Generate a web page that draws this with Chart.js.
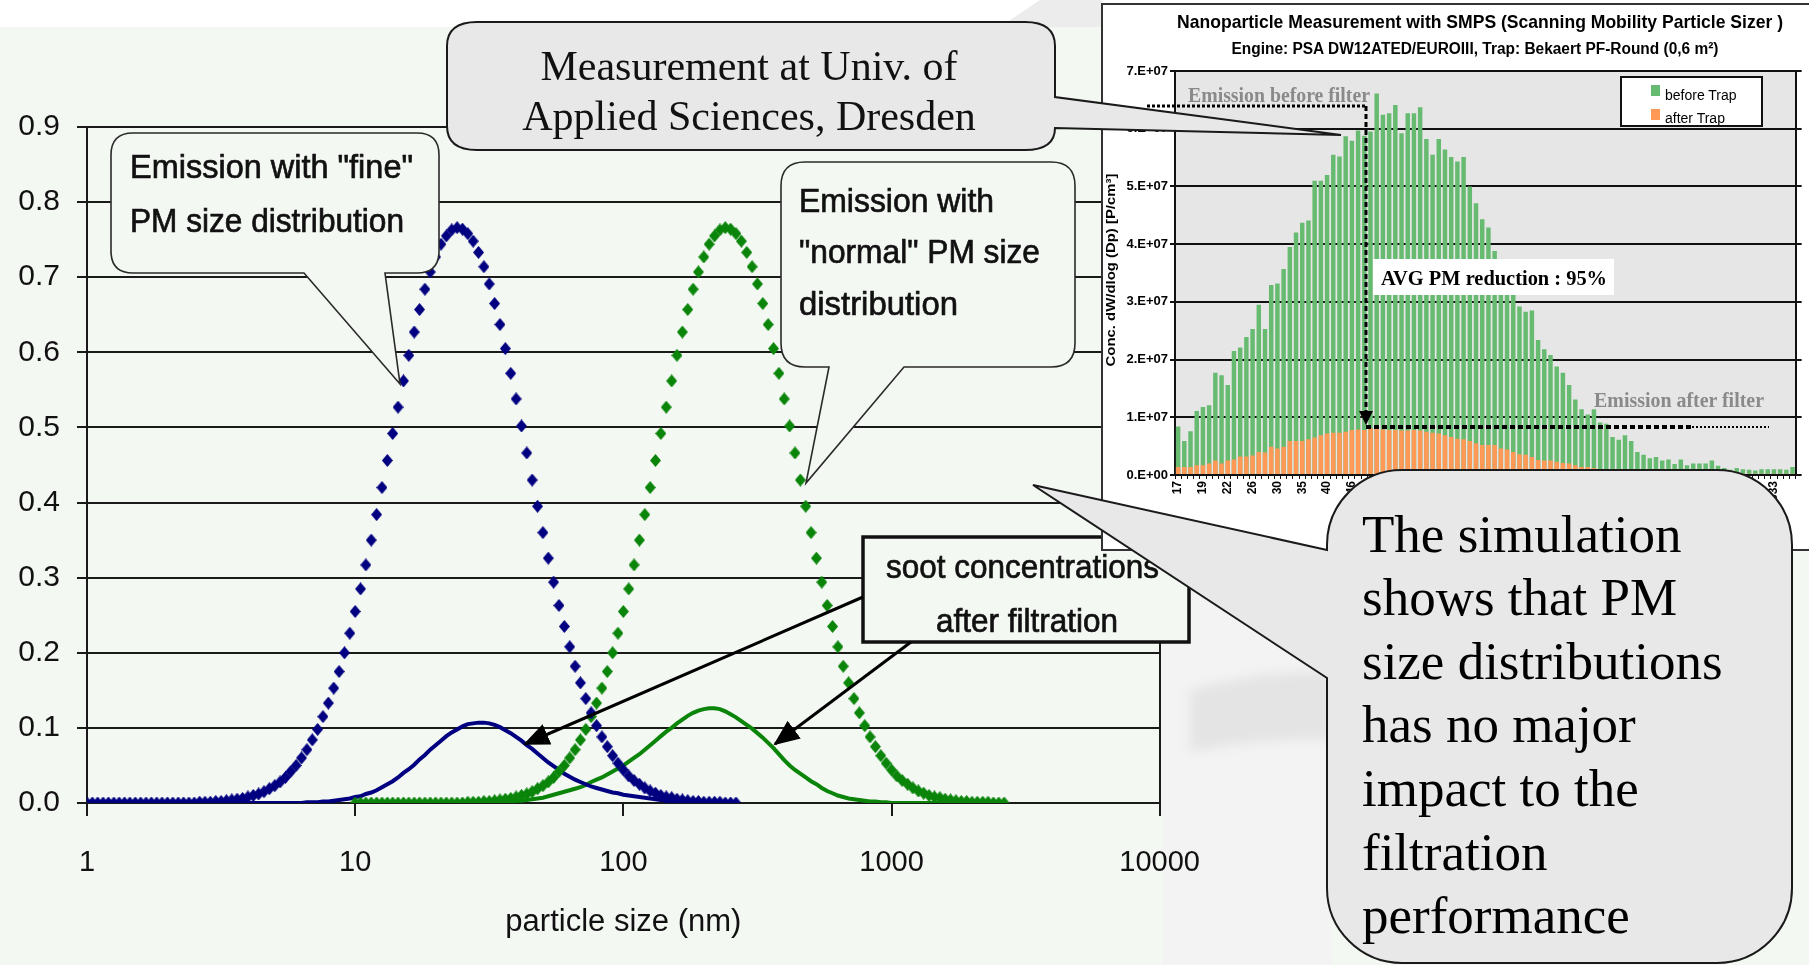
<!DOCTYPE html>
<html>
<head>
<meta charset="utf-8">
<title>PM size distribution</title>
<script src="https://cdn.jsdelivr.net/npm/chart.js@4.4.1/dist/chart.umd.min.js"></script>
<style>
  html, body { margin: 0; padding: 0; }
  body { width: 1809px; height: 965px; overflow: hidden; position: relative; background: #f4f8f3; }
  .layer { position: absolute; left: 0; top: 0; }
  #insetFrame { position: absolute; left: 1101px; top: 3px; width: 720px; height: 548px; background: #fff; border: 2px solid #333; box-sizing: border-box; }
  #insetChart { position: absolute; left: 1102px; top: 4px; }
  .sans { font-family: 'Liberation Sans', Arial, sans-serif; }
  .serif { font-family: 'Liberation Serif', 'Times New Roman', serif; }
  .heavy text { stroke: #111; stroke-width: 0.7; }
</style>
</head>
<body>

<!-- slide background -->
<svg class="layer" width="1809" height="965">
  <defs><filter id="soft"><feGaussianBlur stdDeviation="6"/></filter></defs>
  <rect x="0" y="0" width="1809" height="27" fill="#ffffff"/>
  <polygon points="1000,27 1040,0 1102,0 1102,27" fill="#ececec"/>
  <rect x="1162" y="552" width="170" height="413" fill="#f3f3f3"/>
  <path d="M1190,690 C1240,676 1290,670 1330,672 L1330,740 C1290,738 1240,742 1190,752 Z" fill="#e4e4e4" filter="url(#soft)"/>
</svg>

<canvas id="mainChart" class="layer" width="1230" height="965"></canvas>

<!-- callouts that sit under the inset -->
<svg class="layer sans heavy" width="1809" height="965">
  <defs>
    <marker id="head" markerUnits="userSpaceOnUse" markerWidth="26" markerHeight="22" viewBox="0 0 26 22" refX="24" refY="11" orient="auto">
      <path d="M0,0 L26,11 L0,22 z" fill="#000"/>
    </marker>
  </defs>
  <path d="M133,133 H417 Q439,133 439,155 V251 Q439,273 417,273 H385 L400,384 L304,273 H133 Q111,273 111,251 V155 Q111,133 133,133 Z"
        fill="#f4f8f3" stroke="#2a2a2a" stroke-width="1.6"/>
  <text x="130" y="178" font-size="34" fill="#111" textLength="283" lengthAdjust="spacingAndGlyphs">Emission with "fine"</text>
  <text x="130" y="232" font-size="34" fill="#111" textLength="274" lengthAdjust="spacingAndGlyphs">PM size distribution</text>

  <path d="M805,162 H1051 Q1075,162 1075,186 V343 Q1075,367 1051,367 H904 L806,483 L829,367 H805 Q781,367 781,343 V186 Q781,162 805,162 Z"
        fill="#f4f8f3" stroke="#2a2a2a" stroke-width="1.6"/>
  <text x="799" y="212" font-size="34" fill="#111" textLength="195" lengthAdjust="spacingAndGlyphs">Emission with</text>
  <text x="799" y="263" font-size="34" fill="#111" textLength="241" lengthAdjust="spacingAndGlyphs">"normal" PM size</text>
  <text x="799" y="315" font-size="34" fill="#111" textLength="159" lengthAdjust="spacingAndGlyphs">distribution</text>

  <rect x="863" y="537" width="326" height="105" fill="#f4f8f3" stroke="#111" stroke-width="3.5"/>
  <text x="886" y="578" font-size="34" fill="#111" textLength="273" lengthAdjust="spacingAndGlyphs">soot concentrations</text>
  <text x="936" y="632" font-size="34" fill="#111" textLength="182" lengthAdjust="spacingAndGlyphs">after filtration</text>
  <line x1="863" y1="597" x2="525" y2="744" stroke="#000" stroke-width="3" marker-end="url(#head)"/>
  <line x1="911" y1="642" x2="775" y2="744" stroke="#000" stroke-width="3" marker-end="url(#head)"/>
</svg>

<div id="insetFrame"></div>
<canvas id="insetChart" width="707" height="546"></canvas>

<!-- inset texts and the grey callouts on top -->
<svg class="layer" width="1809" height="965">
  <g class="sans" font-weight="bold" fill="#000">
    <text x="1480" y="28" font-size="19" text-anchor="middle" textLength="606" lengthAdjust="spacingAndGlyphs">Nanoparticle Measurement with SMPS (Scanning Mobility Particle Sizer )</text>
    <text x="1475" y="54" font-size="16" text-anchor="middle" textLength="487" lengthAdjust="spacingAndGlyphs">Engine: PSA DW12ATED/EUROIII, Trap: Bekaert PF-Round (0,6 m²)</text>
    <text x="1111" y="274" font-size="13" text-anchor="middle" transform="rotate(-90 1111 270)" textLength="193" lengthAdjust="spacingAndGlyphs">Conc. dW/dlog (Dp) [P/cm³]</text>
  </g>
  <rect x="1621" y="77" width="141" height="49" fill="#fff" stroke="#111" stroke-width="2"/>
  <rect x="1651" y="85" width="9" height="11" fill="#66bb70"/>
  <rect x="1651" y="109" width="9" height="11" fill="#ff9955"/>
  <text class="sans" x="1665" y="100" font-size="14" fill="#000">before Trap</text>
  <text class="sans" x="1665" y="123" font-size="14" fill="#000">after Trap</text>

  <text class="serif" x="1188" y="102" font-size="20" font-weight="bold" fill="#8a8a8a" textLength="182" lengthAdjust="spacingAndGlyphs">Emission before filter</text>
  <line x1="1147" y1="106" x2="1366" y2="106" stroke="#000" stroke-width="3" stroke-dasharray="3 2"/>
  <line x1="1366" y1="106" x2="1366" y2="414" stroke="#000" stroke-width="3" stroke-dasharray="5 3"/>
  <polygon points="1359,411 1373,411 1366,425" fill="#000"/>
  <line x1="1366" y1="427" x2="1692" y2="427" stroke="#000" stroke-width="4" stroke-dasharray="5 3"/>
  <line x1="1692" y1="427" x2="1769" y2="427" stroke="#000" stroke-width="2" stroke-dasharray="2 2"/>
  <rect x="1373" y="259" width="241" height="36" fill="#fff"/>
  <text class="serif" x="1381" y="285" font-size="22" font-weight="bold" fill="#000" textLength="226" lengthAdjust="spacingAndGlyphs">AVG PM reduction : 95%</text>
  <text class="serif" x="1594" y="407" font-size="20" font-weight="bold" fill="#8a8a8a" textLength="170" lengthAdjust="spacingAndGlyphs">Emission after filter</text>

  <path d="M477,22 H1025 Q1055,22 1055,46 V97 L1341,135 L1055,128 Q1055,150 1025,150 H477 Q447,150 447,126 V46 Q447,22 477,22 Z"
        fill="#e8e8e8" stroke="#1a1a1a" stroke-width="2"/>
  <g class="serif" font-size="42" fill="#111" text-anchor="middle">
    <text x="749" y="80">Measurement at Univ. of</text>
    <text x="749" y="130">Applied Sciences, Dresden</text>
  </g>

  <path d="M1402,470 H1717 A75,75 0 0 1 1792,545 V888 A75,75 0 0 1 1717,963 H1402 A75,75 0 0 1 1327,888 V678 L1033,485 L1327,550 V545 A75,75 0 0 1 1402,470 Z"
        fill="#e8e8e8" stroke="#1a1a1a" stroke-width="2"/>
  <g class="serif" font-size="53" fill="#000">
    <text x="1362" y="552">The simulation</text>
    <text x="1362" y="615">shows that PM</text>
    <text x="1362" y="679">size distributions</text>
    <text x="1362" y="742">has no major</text>
    <text x="1362" y="806">impact to the</text>
    <text x="1362" y="870">filtration</text>
    <text x="1362" y="933">performance</text>
  </g>
</svg>

<script>
// simulated size distributions (particle size in nm)
const fineSize = [
  1, 1.047, 1.096, 1.148, 1.202, 1.259, 1.318, 1.38, 1.445, 1.514, 1.585, 1.66, 1.738, 1.82, 1.905, 1.995, 2.089, 2.188, 2.291, 2.399,
  2.512, 2.63, 2.754, 2.884, 3.02, 3.162, 3.311, 3.467, 3.631, 3.802, 3.981, 4.169, 4.365, 4.571, 4.786, 5.012, 5.248, 5.495, 5.754, 6.026,
  6.31, 6.607, 6.918, 7.244, 7.586, 7.943, 8.318, 8.71, 9.12, 9.55,
  10, 10.47, 10.96, 11.48, 12.02, 12.59, 13.18, 13.8, 14.45, 15.14, 15.85, 16.6, 17.38, 18.2, 19.05, 19.95, 20.89, 21.88, 22.91, 23.99,
  25.12, 26.3, 27.54, 28.84, 30.2, 31.62, 33.11, 34.67, 36.31, 38.02, 39.81, 41.69, 43.65, 45.71, 47.86, 50.12, 52.48, 54.95, 57.54, 60.26,
  63.1, 66.07, 69.18, 72.44, 75.86, 79.43, 83.18, 87.1, 91.2, 95.5,
  100, 104.7, 109.6, 114.8, 120.2, 125.9, 131.8, 138, 144.5, 151.4, 158.5, 166, 173.8, 182, 190.5, 199.5, 208.9, 218.8, 229.1, 239.9,
  251.2, 263
];
const normalSize = [
  10, 10.47, 10.96, 11.48, 12.02, 12.59, 13.18, 13.8, 14.45, 15.14, 15.85, 16.6, 17.38, 18.2, 19.05, 19.95, 20.89, 21.88, 22.91, 23.99,
  25.12, 26.3, 27.54, 28.84, 30.2, 31.62, 33.11, 34.67, 36.31, 38.02, 39.81, 41.69, 43.65, 45.71, 47.86, 50.12, 52.48, 54.95, 57.54, 60.26,
  63.1, 66.07, 69.18, 72.44, 75.86, 79.43, 83.18, 87.1, 91.2, 95.5,
  100, 104.7, 109.6, 114.8, 120.2, 125.9, 131.8, 138, 144.5, 151.4, 158.5, 166, 173.8, 182, 190.5, 199.5, 208.9, 218.8, 229.1, 239.9,
  251.2, 263, 275.4, 288.4, 302, 316.2, 331.1, 346.7, 363.1, 380.2, 398.1, 416.9, 436.5, 457.1, 478.6, 501.2, 524.8, 549.5, 575.4, 602.6,
  631, 660.7, 691.8, 724.4, 758.6, 794.3, 831.8, 871, 912, 955,
  1000, 1047, 1096, 1148, 1202, 1259, 1318, 1380, 1445, 1514, 1585, 1660, 1738, 1820, 1905, 1995, 2089, 2188, 2291, 2399,
  2512, 2630
];
const fineEmission = [
  0, 0, 0, 0, 0, 0, 0, 0, 0, 0, 0, 0, 0, 0, 0, 0, 0, 0, 0, 0, 0,
  0.001, 0.001, 0.001, 0.002, 0.002, 0.003, 0.004, 0.005, 0.006, 0.008,
  0.010, 0.012, 0.015, 0.019, 0.023, 0.028, 0.034, 0.042, 0.050, 0.060,
  0.071, 0.084, 0.098, 0.115, 0.133, 0.153, 0.175, 0.200, 0.226, 0.255,
  0.285, 0.317, 0.350, 0.384, 0.420, 0.456, 0.492, 0.527, 0.562, 0.596,
  0.627, 0.657, 0.684, 0.707, 0.727, 0.744, 0.755, 0.763, 0.766, 0.764,
  0.758, 0.748, 0.733, 0.714, 0.691, 0.665, 0.637, 0.605, 0.572, 0.538,
  0.502, 0.466, 0.430, 0.395, 0.360, 0.326, 0.294, 0.263, 0.235, 0.208,
  0.182, 0.160, 0.139, 0.120, 0.103, 0.088, 0.075, 0.063, 0.053, 0.044,
  0.036, 0.030, 0.025, 0.020, 0.016, 0.013, 0.010, 0.008, 0.007, 0.005,
  0.004, 0.003, 0.002, 0.002, 0.001, 0.001, 0.001, 0.001, 0, 0,
  0
];
const normalEmission = [
  0, 0, 0, 0, 0, 0, 0, 0, 0, 0, 0, 0, 0, 0, 0, 0, 0, 0, 0, 0, 0,
  0.001, 0.001, 0.001, 0.002, 0.002, 0.003, 0.004, 0.005, 0.006, 0.008,
  0.010, 0.012, 0.015, 0.019, 0.023, 0.028, 0.034, 0.042, 0.050, 0.060,
  0.071, 0.084, 0.098, 0.115, 0.133, 0.153, 0.175, 0.200, 0.226, 0.255,
  0.285, 0.317, 0.350, 0.384, 0.420, 0.456, 0.492, 0.527, 0.562, 0.596,
  0.627, 0.657, 0.684, 0.707, 0.727, 0.744, 0.755, 0.763, 0.766, 0.764,
  0.758, 0.748, 0.733, 0.714, 0.691, 0.665, 0.637, 0.605, 0.572, 0.538,
  0.502, 0.466, 0.430, 0.395, 0.360, 0.326, 0.294, 0.263, 0.235, 0.208,
  0.182, 0.160, 0.139, 0.120, 0.103, 0.088, 0.075, 0.063, 0.053, 0.044,
  0.036, 0.030, 0.025, 0.020, 0.016, 0.013, 0.010, 0.008, 0.007, 0.005,
  0.004, 0.003, 0.002, 0.002, 0.001, 0.001, 0.001, 0.001, 0, 0,
  0
];
const fineFiltered = [
  0, 0, 0, 0, 0, 0, 0, 0, 0, 0, 0, 0, 0, 0, 0, 0, 0, 0, 0, 0,
  0, 0, 0, 0, 0, 0, 0, 0, 0, 0, 0, 0, 0, 0, 0, 0, 0, 0, 0, 0,
  0, 0.001, 0.001, 0.001, 0.002, 0.002, 0.003, 0.004, 0.005, 0.006,
  0.008, 0.009, 0.012, 0.014, 0.017, 0.021, 0.025, 0.029, 0.034, 0.040,
  0.045, 0.051, 0.058, 0.064, 0.071, 0.077, 0.083, 0.089, 0.094, 0.098,
  0.102, 0.105, 0.106, 0.107,
  0.107, 0.106, 0.104, 0.101, 0.097, 0.093, 0.088, 0.083, 0.077, 0.072,
  0.066, 0.060, 0.054, 0.049, 0.044, 0.039, 0.035, 0.031, 0.028, 0.025,
  0.022, 0.020, 0.018, 0.016, 0.014, 0.013, 0.011, 0.010, 0.009, 0.008,
  0.007, 0.006, 0.005, 0.004, 0.003, 0.003, 0.002, 0.002, 0.001, 0.001,
  0.001,
  0, 0, 0, 0, 0, 0, 0
];
const normalFiltered = [
  0, 0, 0, 0, 0, 0, 0, 0, 0, 0, 0, 0, 0, 0, 0, 0, 0, 0, 0, 0, 0, 0, 0, 0, 0, 0,
  0.001, 0.001, 0.002, 0.002, 0.003, 0.003, 0.004, 0.005, 0.006, 0.007,
  0.009, 0.011, 0.013, 0.015, 0.017, 0.019, 0.021, 0.024, 0.028, 0.031,
  0.034, 0.038, 0.042, 0.046, 0.050, 0.055, 0.060, 0.065, 0.071, 0.077,
  0.083, 0.089, 0.095, 0.100, 0.106, 0.111, 0.116, 0.120, 0.123, 0.125,
  0.126, 0.126, 0.125, 0.122, 0.118, 0.114, 0.109, 0.104, 0.099, 0.093,
  0.087, 0.080, 0.073, 0.065, 0.057, 0.050, 0.044, 0.039, 0.034, 0.029,
  0.025, 0.020, 0.016, 0.013, 0.010, 0.008, 0.006, 0.005, 0.004, 0.003,
  0.002, 0.002, 0.001, 0.001,
  0, 0, 0, 0, 0, 0, 0, 0, 0, 0, 0, 0, 0, 0, 0, 0, 0, 0, 0, 0, 0, 0
];
const sizeTicks = [1, 10, 100, 1000, 10000];

// inset: SMPS measurement, concentrations in units of 1E+07 P/cm3
const smpsSize = [
  16.8, 17.5, 18.1, 18.8, 19.5, 20.2, 20.9, 21.7, 22.5, 23.3, 24.1, 25.0, 25.9, 26.9, 27.9, 28.9, 30.0, 31.1, 32.2, 33.4,
  34.6, 35.9, 37.2, 38.5, 40.0, 41.4, 42.9, 44.5, 46.1, 47.8, 49.6, 51.4, 53.3, 55.2, 57.3, 59.4, 61.5, 63.8, 66.1, 68.5,
  71.0, 73.7, 76.4, 79.1, 82.0, 85.1, 88.2, 91.4, 94.7, 98.2, 101.8, 105.5, 109.4, 113.4, 117.6, 121.9, 126.3, 131.0, 135.8, 140.7,
  145.9, 151.2, 156.8, 162.5, 168.5, 174.7, 181.1, 187.7, 194.6, 201.7, 209.1, 216.7, 224.7, 232.9, 241.4, 250.3, 259.5, 269.0, 278.8, 289.0,
  299.6, 310.6, 322.0, 333.8, 346.0, 358.7, 371.8, 385.4, 399.5, 414.2, 429.4, 445.1, 461.4, 478.3, 495.8, 514.0, 532.8, 552.3, 572.5, 593.5
];
const smpsTickLabels = ['17', '19', '22', '26', '30', '35', '40', '46', '53', '62', '71', '82', '95',
  '109', '126', '146', '169', '195', '225', '260', '300', '346', '400', '461', '533'];
const beforeTrap = [
  0.84, 0.59, 0.76, 1.11, 1.18, 1.21, 1.77, 1.73, 1.56, 2.15, 2.21, 2.39, 2.53, 2.95, 2.53, 3.29, 3.32, 3.57, 3.95,
  4.20, 4.37, 4.41, 5.10, 5.10, 5.20, 5.55, 5.52, 5.87, 5.79, 5.97, 5.88, 5.95, 6.61, 6.24, 6.27, 6.41, 5.92, 6.27, 6.27,
  6.37, 5.82, 5.55, 5.82, 5.64, 5.51, 5.43, 5.51, 5.00, 4.71, 4.43, 4.29, 3.88,
  3.60, 3.40, 3.25, 2.92, 2.83, 2.85, 2.34, 2.18, 2.08, 1.88, 1.77, 1.56, 1.31, 1.14, 1.05, 1.14, 0.91, 0.89, 0.66, 0.61,
  0.69, 0.59, 0.40, 0.35, 0.29, 0.31, 0.25, 0.27, 0.19, 0.27, 0.17, 0.20, 0.20, 0.20, 0.25, 0.16, 0.12, 0.09, 0.12, 0.10,
  0.09, 0.08, 0.10, 0.10, 0.10, 0.10, 0.09, 0.14
];
const afterTrap = [
  0.14, 0.14, 0.14, 0.17, 0.17, 0.20, 0.25, 0.20, 0.25, 0.27, 0.32, 0.32, 0.34, 0.40, 0.39, 0.49, 0.46, 0.49, 0.59, 0.59,
  0.59, 0.62, 0.65, 0.69, 0.72, 0.73, 0.73, 0.75, 0.78, 0.79, 0.78, 0.81, 0.81, 0.79, 0.78, 0.78, 0.77, 0.77, 0.78, 0.77,
  0.75, 0.73, 0.72, 0.69, 0.66, 0.63, 0.62, 0.59, 0.55, 0.52, 0.52, 0.52, 0.46, 0.44, 0.40, 0.36, 0.35, 0.31, 0.26, 0.25,
  0.25, 0.23, 0.21, 0.20, 0.17, 0.14, 0.14, 0.12, 0.10, 0.10, 0.08, 0.07, 0.06, 0.06, 0.05, 0.05, 0.04, 0.04, 0.03, 0.03,
  0.03, 0.03, 0.03, 0.02, 0.02, 0.02, 0.02, 0.02, 0.02, 0.02, 0.02, 0.02, 0.02, 0.02, 0.02, 0.02, 0.02, 0.02, 0.02, 0.02
];
const concTickLabels = ['0.E+00', '1.E+07', '2.E+07', '3.E+07', '4.E+07', '5.E+07', '6.E+07', '7.E+07'];

Chart.defaults.font.family = "'Liberation Sans', Arial, sans-serif";

// tall diamond marker like the spreadsheet one
function diamond(color) {
  const c = document.createElement('canvas');
  c.width = 11;
  c.height = 13;
  const g = c.getContext('2d');
  g.fillStyle = color;
  g.beginPath();
  g.moveTo(5.5, 0);
  g.lineTo(11, 6.5);
  g.lineTo(5.5, 13);
  g.lineTo(0, 6.5);
  g.closePath();
  g.fill();
  return c;
}

const toPoints = (xs, ys) => xs.map((x, i) => ({ x: x, y: ys[i] }));

const navy = '#000080';
const green = '#0a850a';

new Chart(document.getElementById('mainChart'), {
  type: 'scatter',
  data: {
    datasets: [
      { label: 'fine', data: toPoints(fineSize, fineEmission), pointStyle: diamond(navy), pointRadius: 6, showLine: false },
      { label: 'normal', data: toPoints(normalSize, normalEmission), pointStyle: diamond(green), pointRadius: 6, showLine: false },
      { label: 'fine filtered', data: toPoints(fineSize, fineFiltered), showLine: true, borderColor: navy, borderWidth: 4, pointRadius: 0 },
      { label: 'normal filtered', data: toPoints(normalSize, normalFiltered), showLine: true, borderColor: green, borderWidth: 4, pointRadius: 0 }
    ]
  },
  options: {
    responsive: false,
    animation: false,
    devicePixelRatio: 1,
    layout: { padding: { left: 0, right: 69, top: 127, bottom: 0 } },
    plugins: { legend: { display: false }, tooltip: { enabled: false } },
    scales: {
      x: {
        type: 'logarithmic',
        min: 1,
        max: 10000,
        afterBuildTicks: (axis) => { axis.ticks = sizeTicks.map((v) => ({ value: v })); },
        afterFit: (axis) => { axis.height = 162; },
        ticks: { color: '#111', font: { size: 29 }, padding: 30, maxRotation: 0, callback: (v) => String(v) },
        grid: {
          color: (c) => (c.tick && c.tick.value === 10000 ? '#1a1a1a' : 'rgba(0,0,0,0)'),
          tickColor: '#1a1a1a',
          lineWidth: 2,
          tickLength: 13
        },
        border: { color: '#1a1a1a', width: 2 },
        title: { display: true, text: 'particle size (nm)', color: '#111', font: { size: 31 }, padding: { top: 0, bottom: 24 } }
      },
      y: {
        min: 0,
        max: 0.9,
        afterFit: (axis) => { axis.width = 87; },
        ticks: { stepSize: 0.1, color: '#111', font: { size: 30 }, padding: 17, callback: (v) => v.toFixed(1) },
        grid: { color: '#1a1a1a', lineWidth: 2, tickLength: 10 },
        border: { color: '#1a1a1a', width: 2 }
      }
    }
  }
});

// grey plot area of the inset
const plotBg = {
  id: 'plotBg',
  beforeDraw(chart) {
    const { ctx, chartArea } = chart;
    ctx.save();
    ctx.fillStyle = '#e6e6e6';
    ctx.fillRect(chartArea.left, chartArea.top, chartArea.width, chartArea.height);
    ctx.restore();
  }
};

new Chart(document.getElementById('insetChart'), {
  type: 'bar',
  data: {
    labels: smpsSize,
    datasets: [
      { label: 'after Trap', data: afterTrap, backgroundColor: '#ff9955', grouped: false, order: 1 },
      { label: 'before Trap', data: beforeTrap, backgroundColor: '#66bb70', grouped: false, order: 2 }
    ]
  },
  options: {
    responsive: false,
    animation: false,
    devicePixelRatio: 1,
    layout: { padding: { left: 0, right: 0, top: 67, bottom: 0 } },
    datasets: { bar: { barPercentage: 0.72, categoryPercentage: 1 } },
    plugins: { legend: { display: false }, tooltip: { enabled: false } },
    scales: {
      x: {
        afterFit: (axis) => { axis.height = 75; },
        ticks: {
          autoSkip: false, minRotation: 90, maxRotation: 90, padding: 2,
          color: '#000', font: { size: 12, weight: 'bold' },
          callback: (v, i) => (i % 4 === 0 ? smpsTickLabels[i / 4] : '')
        },
        grid: { drawOnChartArea: false, tickLength: 4, color: '#111' },
        border: { color: '#111', width: 2 }
      },
      y: {
        min: 0,
        max: 7,
        afterFit: (axis) => { axis.width = 73; },
        ticks: { stepSize: 1, padding: 2, color: '#000', font: { size: 13, weight: 'bold' }, callback: (v) => concTickLabels[v] },
        grid: { color: '#111', lineWidth: 2, tickLength: 5 },
        border: { color: '#111', width: 2 }
      },
      y2: {
        position: 'right',
        min: 0,
        max: 7,
        afterFit: (axis) => { axis.width = 10; },
        ticks: { display: false, stepSize: 1 },
        grid: { drawOnChartArea: false, color: '#111', lineWidth: 2, tickLength: 6 },
        border: { color: '#111', width: 2 }
      }
    }
  },
  plugins: [plotBg]
});
</script>
</body>
</html>
